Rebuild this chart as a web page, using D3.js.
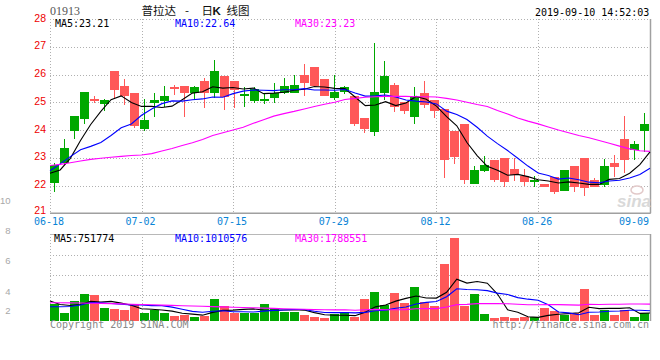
<!DOCTYPE html>
<html><head><meta charset="utf-8">
<script src="https://cdn.jsdelivr.net/npm/d3@7"></script>
<style>
html,body{margin:0;padding:0;background:#fff;}
svg{display:block;}
</style></head><body>
<svg id="c" width="660" height="360"></svg>
<script>
// ---------- data ----------
const dates = ["06-18","06-19","06-20","06-21","06-24","06-25","06-26","06-27","06-28",
"07-02","07-03","07-04","07-05","07-08","07-09","07-10","07-11","07-12",
"07-15","07-16","07-17","07-18","07-19","07-22","07-23","07-24","07-25","07-26",
"07-29","07-30","07-31","08-01","08-02","08-05","08-06","08-07","08-08","08-09",
"08-12","08-13","08-14","08-15","08-16","08-19","08-20","08-21","08-22","08-23",
"08-26","08-27","08-28","08-29","08-30","09-02","09-03","09-04","09-05","09-06",
"09-09","09-10"];
const open = [22.08,22.80,23.97,24.40,25.12,24.95,26.13,25.59,25.34,24.04,
24.98,25.05,25.54,25.59,25.34,25.77,25.32,25.95,25.77,25.23,
25.06,25.06,25.16,25.32,25.32,25.98,26.27,25.84,25.16,25.36,
25.23,24.43,23.94,25.34,25.62,25.02,24.48,25.34,25.08,24.76,
23.97,24.22,22.05,22.53,22.92,22.99,22.59,22.33,22.14,22.05,
22.29,21.81,22.71,22.99,22.20,22.02,22.82,23.68,23.28,23.96];
const close = [22.74,23.34,24.50,25.37,25.05,25.08,25.43,25.23,24.16,24.36,
25.08,25.23,25.46,25.34,25.55,25.32,26.13,25.20,25.44,25.29,
25.48,25.12,25.33,25.59,25.62,25.70,25.60,25.24,25.36,25.54,
24.22,24.04,25.36,25.95,24.84,24.68,25.20,24.90,24.68,22.92,
23.04,22.20,22.56,22.74,22.20,22.14,22.38,22.14,22.20,21.96,
21.78,22.56,21.96,21.92,21.96,22.71,22.68,22.92,23.50,24.22];
const high = [22.82,23.68,24.50,25.37,25.23,25.12,26.13,25.85,25.34,25.12,
25.34,25.59,25.62,25.59,25.59,25.89,26.52,25.95,25.77,25.56,
25.56,25.29,25.68,25.89,25.97,26.38,26.27,25.84,25.98,25.58,
25.23,24.43,27.15,26.50,25.70,25.02,25.56,25.78,25.08,24.76,
23.97,24.22,22.70,23.06,22.92,22.99,22.99,22.59,22.35,22.05,
22.29,22.56,22.71,22.99,22.27,22.95,23.10,24.50,23.60,24.62];
const low = [21.78,22.74,23.68,24.23,24.98,24.70,25.11,24.90,24.08,23.96,
24.48,24.84,25.25,24.48,25.08,24.80,25.14,24.72,24.80,24.84,
24.98,24.93,24.98,25.29,25.32,25.23,25.60,25.24,25.08,25.30,
24.16,23.88,23.78,25.08,24.66,24.57,24.22,24.80,24.44,22.28,
22.77,22.05,22.05,22.50,22.14,21.96,22.17,21.99,21.96,21.96,
21.68,21.81,21.78,21.63,21.96,21.96,22.32,22.46,22.92,23.22];
const ma5 = [22.44,22.56,22.98,23.62,24.20,24.67,25.09,25.23,24.99,24.85,
24.85,24.81,24.86,25.09,25.33,25.38,25.56,25.51,25.53,25.48,
25.51,25.31,25.33,25.36,25.43,25.47,25.57,25.55,25.50,25.49,
25.19,24.88,24.90,25.02,24.88,24.97,25.21,25.11,24.86,24.48,
24.15,23.55,23.08,22.69,22.55,22.37,22.40,22.32,22.21,22.16,
22.09,22.13,22.09,22.04,22.04,22.22,22.25,22.44,22.75,23.21];
const ma10 = [22.53,22.78,23.04,23.29,23.41,23.55,23.80,24.08,24.22,24.53,
24.76,24.95,25.05,25.04,25.09,25.12,25.19,25.18,25.31,25.40,
25.44,25.43,25.42,25.45,25.45,25.49,25.44,25.44,25.43,25.46,
25.33,25.22,25.23,25.26,25.19,25.08,25.04,25.01,24.94,24.68,
24.56,24.38,24.10,23.78,23.51,23.26,22.98,22.70,22.45,22.36,
22.23,22.27,22.21,22.12,22.10,22.16,22.19,22.27,22.40,22.62];
const ma30 = [22.72,22.76,22.82,22.88,22.94,22.98,23.02,23.05,23.08,23.10,
23.15,23.24,23.33,23.44,23.54,23.66,23.80,23.90,24.00,24.10,
24.24,24.37,24.50,24.59,24.67,24.76,24.85,24.93,25.00,25.10,
25.14,25.18,25.20,25.21,25.21,25.21,25.20,25.20,25.19,25.14,
25.08,25.00,24.92,24.85,24.70,24.58,24.43,24.32,24.22,24.11,
24.00,23.90,23.80,23.72,23.62,23.52,23.42,23.32,23.25,23.23];
// volume in units of 10,000 shares
const volume = [167,83,200,270,260,133,120,110,167,83,
107,83,53,60,43,53,223,150,77,77,
77,170,130,93,93,60,43,27,67,87,
43,220,290,160,280,180,340,193,153,570,
833,147,270,70,30,40,30,40,40,130,
100,60,80,320,60,110,60,110,40,80];
const volMa5 = [200,165,155,165,196,189.2,196.6,178.6,158,122.6,
117.4,110,98.6,77.2,69.2,58.4,86.4,105.8,109.2,116,
120.8,110.2,106.2,109.4,112.6,109.2,83.8,63.2,58,56.8,
53.4,88.8,141.4,160,198.6,226,250,230.6,229.2,287.2,
417.8,379.2,394.6,378,270,111.4,88,42,36,56,
68,74,82,138,124,126,126,132,76,80];
const volMa10 = [143,143,145,160,185,183,175,167,160,159.3,
153.3,153.3,138.6,117.6,95.9,87.9,98.2,102.2,93.2,92.6,
89.6,98.3,106,109.3,114.3,115,97,84.7,83.7,84.7,
81.3,86.3,102.3,109,127.7,139.7,169.4,186,194.6,242.9,
321.9,314.6,312.6,303.6,278.6,264.6,233.6,218.3,207,163,
89.7,81,62,87,90,97,100,107,107,102];
const volMa30 = [183,182,181,180,178,176,174,171,168,165,
162,159,156,153,150,147,144,141,138,135,
132,129,126,123,120,117,114,112,111,112,
108,113,116,112,113,114,122,124,124,140,
164,166,174,174,174,173,167,163,162,164,
164,161,159,167,165,167,168,170,170,169];

const priceTicks = [21,22,23,24,25,26,27,28];
const dateTicks = ["06-18","07-02","07-15","07-29","08-12","08-26","09-09"];
const volTickLabels = [10,8,6,4,2];
const priceLegend = [["MA5",23.21],["MA10",22.64],["MA30",23.23]];
const volLegend = [["MA5",751774],["MA10",1010576],["MA30",1788551]];
const stockCode = "01913";
const titleParts = ["普拉达","-","日","K","线图"];
const timestamp = "2019-09-10 14:52:03";

// ---------- layout ----------
const L = 50, R = 650;
const pTop = 19, pBot = 213.25;
const vTop = 234, vBot = 321;
const UP = "#00a800", DOWN = "#ff5858";
const maColors = ["#000000", "#0000ff", "#ff00ff"];
const legendX = [55, 175, 295];
const mono = "'DejaVu Sans Mono', monospace";
const sans = "'Liberation Sans', Arial, sans-serif";

const svg = d3.select("#c");
svg.append("rect").attr("width", 660).attr("height", 360).attr("fill", "#fff");

const n = dates.length;
const xBand = d3.scaleBand().domain(d3.range(n)).range([L, R])
  .paddingInner(0.1).paddingOuter(0.05).align(0);
const xLine = d3.scaleLinear().domain([0, n - 1]).range([L, R]);
const yP = d3.scaleLinear().domain([21, 28]).range([pBot, pTop]);
const yV = d3.scaleLinear().domain([0, 870]).range([vBot, vTop]);
const crisp = v => Math.round(v) + 0.5;

// ---------- grids ----------
const grid = svg.append("g").attr("stroke", "#b0b0b0").attr("stroke-width", 1)
  .attr("stroke-dasharray", "1,2").attr("shape-rendering", "crispEdges");
priceTicks.filter(v => v > 21).forEach(v => {
  grid.append("line").attr("x1", L).attr("x2", R)
    .attr("y1", crisp(yP(v))).attr("y2", crisp(yP(v)));
});
const gridDates = dateTicks.slice(1, -1);
gridDates.forEach(d => {
  const x = crisp(xLine(dates.indexOf(d)));
  grid.append("line").attr("x1", x).attr("x2", x).attr("y1", pTop).attr("y2", pBot);
  grid.append("line").attr("x1", x).attr("x2", x).attr("y1", vTop).attr("y2", vBot);
});
grid.append("line").attr("x1", L + 0.5).attr("x2", L + 0.5).attr("y1", pTop).attr("y2", pBot);
grid.append("line").attr("x1", L + 0.5).attr("x2", L + 0.5).attr("y1", vTop).attr("y2", vBot);
[1, 2, 3].forEach(k => {
  const y = crisp(vTop + 1 + k * 20);
  grid.append("line").attr("x1", L).attr("x2", R).attr("y1", y).attr("y2", y);
});

// solid borders
const border = svg.append("g").attr("stroke", "#a0a0a0").attr("stroke-width", 1.5).attr("fill", "none");
border.append("line").attr("x1", L).attr("x2", R + 0.75).attr("y1", pBot).attr("y2", pBot);
border.append("line").attr("x1", R + 0.5).attr("x2", R + 0.5).attr("y1", pTop).attr("y2", pBot);
border.append("line").attr("x1", R + 0.5).attr("x2", R + 0.5).attr("y1", vTop).attr("y2", vBot);
border.append("line").attr("x1", L).attr("x2", R).attr("y1", vTop + 0.5).attr("y2", vTop + 0.5)
  .attr("stroke-width", 1).attr("stroke", "#b8b8b8");

// sina watermark
const wm = svg.append("g").attr("fill", "#d9d9d9");
wm.append("text").attr("x", 617).attr("y", 207).attr("font-family", sans)
  .attr("font-size", 17).attr("font-weight", "bold").attr("font-style", "italic").text("sina");
wm.append("ellipse").attr("cx", 637).attr("cy", 190).attr("rx", 6).attr("ry", 4)
  .attr("fill", "none").attr("stroke", "#e2c9c9").attr("stroke-width", 1.5);

// ---------- candles ----------
const idx = d3.range(n);
const isUp = i => close[i] >= open[i];
const bw = xBand.bandwidth();
const cg = svg.append("g").attr("shape-rendering", "crispEdges");
cg.selectAll("line.wick").data(idx).join("line").attr("class", "wick")
  .attr("x1", i => xBand(i) + Math.floor(bw / 2) + 0.5)
  .attr("x2", i => xBand(i) + Math.floor(bw / 2) + 0.5)
  .attr("y1", i => yP(high[i])).attr("y2", i => yP(low[i]))
  .attr("stroke", i => isUp(i) ? UP : DOWN).attr("stroke-width", 1);
cg.selectAll("rect.body").data(idx).join("rect").attr("class", "body")
  .attr("x", i => xBand(i)).attr("width", bw)
  .attr("y", i => yP(Math.max(open[i], close[i])))
  .attr("height", i => Math.max(1.5, Math.abs(yP(open[i]) - yP(close[i]))))
  .attr("fill", i => isUp(i) ? UP : DOWN);

const pLine = arr => d3.line().x((d, i) => xLine(i)).y(d => yP(d))(arr);
[ma5, ma10, ma30].forEach((arr, k) => {
  svg.append("path").attr("d", pLine(arr)).attr("fill", "none")
    .attr("stroke", maColors[k]).attr("stroke-width", 1.1);
});

// ---------- volume ----------
const vg = svg.append("g").attr("shape-rendering", "crispEdges");
vg.selectAll("rect").data(idx).join("rect")
  .attr("x", i => xBand(i)).attr("width", bw)
  .attr("y", i => yV(volume[i])).attr("height", i => vBot - yV(volume[i]))
  .attr("fill", i => isUp(i) ? UP : DOWN);
const vLine = arr => d3.line().x((d, i) => xLine(i)).y(d => yV(d))(arr);
[volMa5, volMa10, volMa30].forEach((arr, k) => {
  svg.append("path").attr("d", vLine(arr)).attr("fill", "none")
    .attr("stroke", maColors[k]).attr("stroke-width", 1.1);
});

// ---------- texts ----------
svg.append("g").selectAll("text").data(priceTicks).join("text")
  .attr("x", 46).attr("y", v => Math.min(yP(v) + 2.5, 214)).attr("text-anchor", "end")
  .attr("font-family", sans).attr("font-size", 10.5).attr("fill", "#ee0000")
  .text(v => v);
svg.append("g").selectAll("text").data(dateTicks).join("text")
  .attr("x", d => Math.min(xLine(dates.indexOf(d)) - 1, 634))
  .attr("y", 224.5).attr("text-anchor", "middle")
  .attr("font-family", mono).attr("font-size", 10).attr("fill", "#0a84d6")
  .text(d => d);
const volLabelY = d3.scaleLinear().domain([10, 4]).range([203.5, 294.5]);
svg.append("g").selectAll("text").data(volTickLabels).join("text")
  .attr("x", 10.5).attr("y", v => Math.min(volLabelY(v), 313.5)).attr("text-anchor", "end")
  .attr("font-family", sans).attr("font-size", 9.5).attr("fill", "#a8a8a8")
  .text(v => v);

priceLegend.forEach((d, k) => {
  svg.append("text").attr("x", legendX[k]).attr("y", 26.5)
    .attr("font-family", mono).attr("font-size", 10).attr("fill", maColors[k])
    .text(d[0] + ":" + d[1].toFixed(2));
});
volLegend.forEach((d, k) => {
  svg.append("text").attr("x", legendX[k] - (k === 0 ? 1 : 0)).attr("y", 242)
    .attr("font-family", mono).attr("font-size", 10).attr("fill", maColors[k])
    .text(d[0] + ":" + d[1]);
});

svg.append("text").attr("x", 50).attr("y", 15).attr("font-family", "'Liberation Serif', serif")
  .attr("font-size", 12).attr("fill", "#555").text(stockCode);
const title = svg.append("text").attr("y", 14.5).attr("font-family", "'Noto Sans CJK SC', sans-serif")
  .attr("font-size", 11.5).attr("fill", "#111");
const titleX = [141.5, 185, 201.5, 212.5, 226.5];
titleParts.forEach((t, k) => {
  title.append("tspan").attr("x", titleX[k])
    .attr("font-weight", t === "K" ? "bold" : "normal")
    .attr("font-family", t === "K" ? sans : null)
    .text(t);
});
svg.append("text").attr("x", 535).attr("y", 15.5).attr("font-family", mono)
  .attr("font-size", 10).attr("fill", "#000").text(timestamp);

svg.append("text").attr("x", 50).attr("y", 327.5).attr("font-family", mono)
  .attr("font-size", 10).attr("fill", "#888").text("Copyright 2019 SINA.COM");
svg.append("text").attr("x", 649).attr("y", 327.5).attr("text-anchor", "end").attr("font-family", mono)
  .attr("font-size", 10).attr("fill", "#888").text("http://finance.sina.com.cn");
</script>
</body></html>
